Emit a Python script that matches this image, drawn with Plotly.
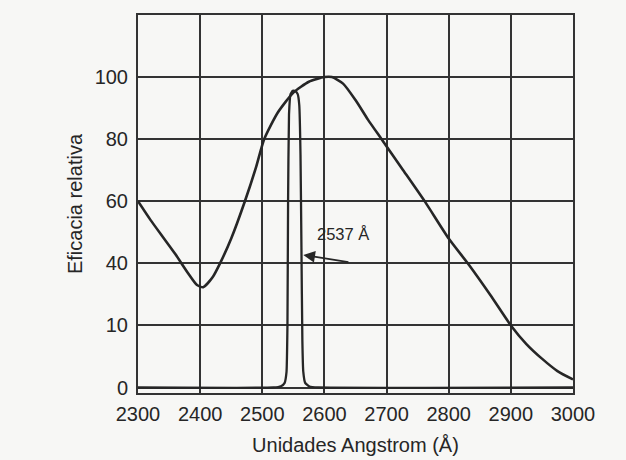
import plotly.graph_objects as go

# Broad action-spectrum curve (relative efficacy vs wavelength, Å)
broad_x = [2300, 2320, 2340, 2360, 2380, 2395, 2405, 2420, 2432, 2450, 2472, 2490,
           2503, 2525, 2550, 2575, 2600, 2612, 2630, 2650, 2670, 2692, 2725, 2762,
           2800, 2833, 2867, 2900, 2925, 2950, 2975, 3000]
broad_y = [60, 54, 48.5, 43, 37, 33, 32.3, 35.5, 40, 48, 60, 71,
           80, 88.6, 95, 98.5, 100, 100, 97.9, 92.6, 86.3, 80, 70.5, 59.8,
           48, 39.4, 29.8, 20, 14, 9.3, 5.3, 2.6]

# Narrow mercury line at 2537 Å
peak_x = [2300, 2518, 2530, 2536, 2539, 2540.5, 2541.5, 2543, 2545.5, 2549, 2553,
          2557, 2559.5, 2561.5, 2563, 2564.5, 2566, 2569, 2576, 2590, 3000]
peak_y = [0, 0, 0.4, 1.5, 5, 20, 60, 88, 94.5, 95.6, 95.5, 94.5,
          91, 75, 45, 15, 5, 1.5, 0.3, 0, 0]

x_ticks = [2300, 2400, 2500, 2600, 2700, 2800, 2900, 3000]
y_tickvals = [0, 20, 40, 60, 80, 100]
y_ticktext = ["0", "10", "40", "60", "80", "100"]

ink = "#262626"
font = "Liberation Sans, Arial, Helvetica, sans-serif"

fig = go.Figure()
fig.add_trace(go.Scatter(x=peak_x, y=peak_y, mode="lines",
                         line=dict(color=ink, width=2.3, shape="spline", smoothing=0.4),
                         hoverinfo="skip", showlegend=False))
fig.add_trace(go.Scatter(x=broad_x, y=broad_y, mode="lines",
                         line=dict(color=ink, width=2.6, shape="spline", smoothing=0.6),
                         hoverinfo="skip", showlegend=False))

# label and arrow for 2537 Å
fig.add_annotation(x=2630, y=49.4, text="2537 Å", showarrow=False,
                   font=dict(family=font, size=16.5, color=ink))
fig.add_annotation(x=2566, y=42.7, ax=2641, ay=40.3, axref="x", ayref="y",
                   text="", showarrow=True, arrowhead=2, arrowsize=1.3,
                   arrowwidth=1.8, arrowcolor=ink)

fig.update_layout(
    width=626, height=460,
    margin=dict(l=138, r=53, t=15, b=67),
    paper_bgcolor="#f7f7f5", plot_bgcolor="#f7f7f5",
    font=dict(family=font, size=20, color=ink),
    xaxis=dict(range=[2300, 3000], tickvals=x_ticks, showgrid=True,
               gridcolor="#333333", gridwidth=1.6, zeroline=False,
               showline=True, linecolor="#333333", linewidth=2, mirror=True,
               ticks="", ticklabelstandoff=2, automargin=False,
               title=dict(text="Unidades Angstrom (Å)", font=dict(size=20), standoff=14)),
    yaxis=dict(range=[-1.77, 120], tickvals=y_tickvals, ticktext=y_ticktext,
               showgrid=True, gridcolor="#333333", gridwidth=1.6,
               zeroline=False, showline=True, linecolor="#333333", linewidth=2,
               mirror=True, ticks="", ticklabelstandoff=4, automargin=False,
               title=dict(text="Eficacia relativa", font=dict(size=20), standoff=7)),
)

fig.write_html("out.html")
